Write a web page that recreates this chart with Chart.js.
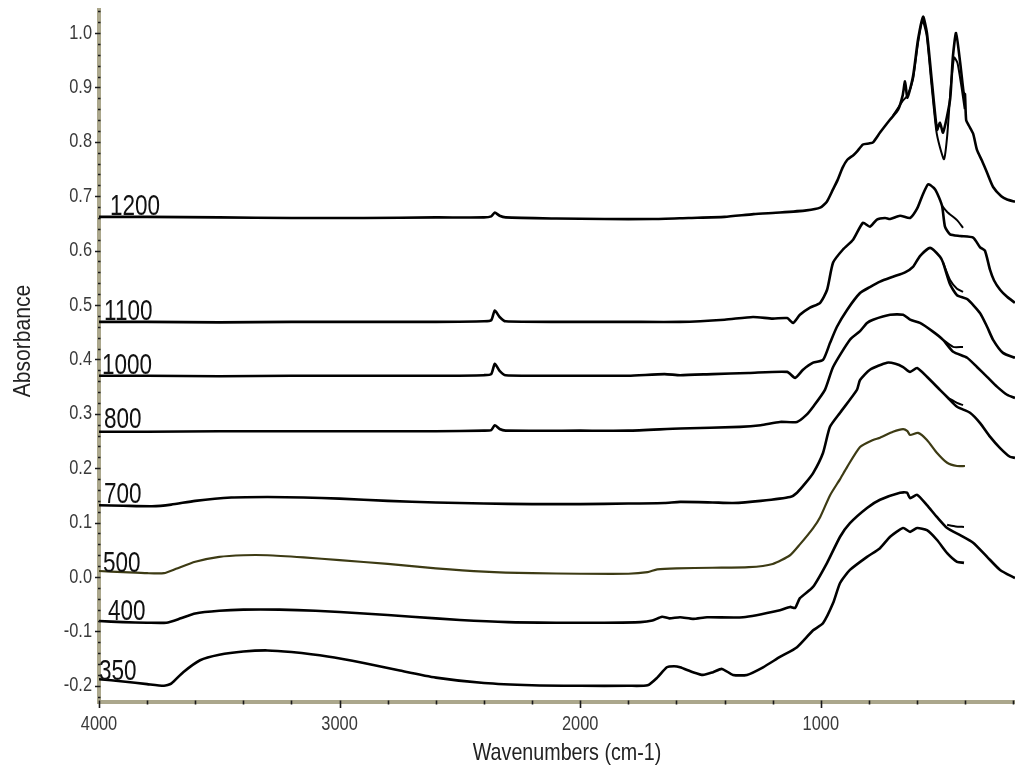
<!DOCTYPE html>
<html>
<head>
<meta charset="utf-8">
<title>Absorbance spectra</title>
<script src="https://cdn.jsdelivr.net/npm/chart.js@4.4.0/dist/chart.umd.min.js"></script>
<style>
  html, body { margin: 0; padding: 0; background: #fff; }
  #wrap { width: 1015px; height: 779px; position: relative; }
</style>
</head>
<body>
<div id="wrap"><canvas id="spectra"></canvas></div>
<script>
// spectra as [wavenumber, absorbance]
const s1200 = [[4000,0.662],[3800,0.662],[3500,0.661],[3200,0.660],[2900,0.660],[2600,0.661],[2400,0.661],[2370,0.663],[2355,0.670],[2335,0.664],[2310,0.661],[2100,0.659],[1900,0.658],[1700,0.658],[1550,0.660],[1400,0.662],[1280,0.667],[1170,0.670],[1060,0.674],[1003,0.679],[975,0.690],[950,0.712],[930,0.730],[910,0.752],[890,0.767],[866,0.775],[850,0.782],[825,0.795],[800,0.797],[783,0.799],[754,0.817],[712,0.841],[679,0.859],[660,0.885],[650,0.911],[640,0.881],[617,0.920],[596,0.988],[575,1.030],[559,1.000],[538,0.909],[517,0.822],[505,0.835],[492,0.817],[463,0.877],[451,0.957],[438,1.000],[421,0.946],[405,0.885],[401,0.888],[396,0.840],[385,0.830],[367,0.815],[351,0.785],[330,0.765],[309,0.743],[284,0.717],[250,0.700],[226,0.694],[193,0.690]];
const s1200b = [[700,0.848],[660,0.875],[640,0.885],[617,0.915],[596,0.982],[577,1.022],[560,0.995],[540,0.905],[520,0.820],[505,0.790],[488,0.768],[475,0.810],[460,0.900],[446,0.955],[432,0.945],[415,0.900],[402,0.860]];

const s1100 = [[4000,0.469],[3800,0.469],[3500,0.468],[3200,0.469],[2900,0.469],[2600,0.469],[2400,0.470],[2370,0.472],[2355,0.490],[2335,0.478],[2310,0.470],[2000,0.469],[1800,0.469],[1585,0.469],[1400,0.473],[1282,0.478],[1200,0.475],[1140,0.476],[1115,0.467],[1087,0.482],[1045,0.495],[1003,0.504],[974,0.528],[949,0.578],[908,0.602],[866,0.620],[825,0.651],[796,0.644],[767,0.657],[733,0.660],[712,0.658],[671,0.664],[629,0.660],[600,0.677],[579,0.700],[554,0.722],[530,0.715],[517,0.706],[496,0.682],[484,0.644],[463,0.630],[421,0.627],[367,0.624],[338,0.606],[318,0.600],[297,0.565],[280,0.545],[255,0.528],[226,0.515],[193,0.504]];
const s1100b = [[496,0.682],[475,0.671],[434,0.656],[409,0.642]];

const s1000 = [[4000,0.370],[3800,0.370],[3500,0.369],[3200,0.370],[2900,0.370],[2600,0.370],[2400,0.371],[2370,0.373],[2355,0.392],[2335,0.379],[2310,0.371],[2000,0.370],[1800,0.370],[1650,0.373],[1585,0.371],[1450,0.373],[1300,0.375],[1140,0.377],[1107,0.366],[1074,0.381],[1032,0.394],[991,0.399],[962,0.430],[933,0.460],[891,0.491],[837,0.522],[796,0.533],[754,0.543],[700,0.552],[650,0.560],[617,0.570],[588,0.590],[546,0.605],[505,0.589],[492,0.578],[463,0.538],[434,0.518],[392,0.511],[338,0.485],[309,0.460],[284,0.436],[243,0.412],[193,0.403]];
const s1000b = [[492,0.578],[463,0.546],[434,0.530],[409,0.524]];

const s800 = [[4000,0.267],[3800,0.267],[3500,0.268],[3200,0.268],[2900,0.268],[2600,0.268],[2400,0.269],[2370,0.270],[2355,0.279],[2335,0.272],[2310,0.269],[2000,0.269],[1800,0.269],[1585,0.273],[1336,0.276],[1250,0.279],[1170,0.285],[1099,0.285],[1060,0.298],[1032,0.313],[983,0.344],[949,0.386],[879,0.436],[837,0.452],[808,0.467],[783,0.473],[712,0.482],[658,0.482],[629,0.473],[588,0.467],[534,0.451],[492,0.436],[450,0.414],[392,0.403],[351,0.386],[309,0.368],[268,0.350],[226,0.335],[193,0.329]];
const s800b = [[492,0.436],[450,0.423],[409,0.423]];

const s700 = [[4000,0.132],[3900,0.131],[3780,0.130],[3700,0.133],[3600,0.140],[3450,0.146],[3300,0.147],[3150,0.146],[3000,0.144],[2800,0.140],[2600,0.137],[2400,0.135],[2200,0.134],[2000,0.134],[1800,0.135],[1650,0.136],[1585,0.138],[1450,0.137],[1365,0.136],[1250,0.140],[1128,0.147],[1099,0.155],[1065,0.172],[1032,0.191],[991,0.228],[962,0.276],[920,0.302],[850,0.344],[837,0.362],[796,0.381],[725,0.394],[690,0.392],[658,0.386],[629,0.377],[600,0.384],[559,0.368],[505,0.344],[471,0.329],[434,0.313],[380,0.302],[338,0.283],[297,0.258],[255,0.237],[214,0.221],[193,0.219]];
const s700b = [[471,0.329],[434,0.320],[409,0.316]];

const s500 = [[4000,0.011],[3900,0.009],[3800,0.007],[3730,0.007],[3680,0.015],[3600,0.028],[3500,0.037],[3400,0.040],[3300,0.040],[3150,0.036],[3000,0.031],[2800,0.024],[2600,0.016],[2400,0.010],[2200,0.007],[2000,0.006],[1800,0.006],[1720,0.009],[1680,0.014],[1600,0.016],[1450,0.017],[1300,0.018],[1200,0.024],[1128,0.040],[1087,0.060],[1032,0.090],[1003,0.110],[962,0.150],[920,0.180],[891,0.202],[837,0.239],[783,0.252],[754,0.256],[700,0.267],[658,0.272],[640,0.268],[629,0.261],[596,0.265],[559,0.252],[517,0.228],[475,0.210],[434,0.204],[401,0.204]];

const s400 = [[4000,-0.081],[3900,-0.083],[3800,-0.084],[3720,-0.084],[3660,-0.076],[3600,-0.067],[3500,-0.062],[3400,-0.060],[3250,-0.060],[3100,-0.062],[2900,-0.067],[2700,-0.073],[2500,-0.079],[2300,-0.083],[2100,-0.084],[1900,-0.084],[1750,-0.083],[1700,-0.080],[1660,-0.073],[1630,-0.076],[1585,-0.074],[1531,-0.077],[1473,-0.074],[1323,-0.074],[1170,-0.061],[1128,-0.055],[1107,-0.057],[1087,-0.039],[1032,-0.018],[974,0.026],[920,0.074],[879,0.099],[808,0.127],[754,0.142],[671,0.155],[642,0.155],[629,0.145],[600,0.151],[559,0.132],[517,0.110],[475,0.090],[421,0.077],[367,0.063],[309,0.037],[255,0.013],[193,-0.002]];
const s400b = [[475,0.096],[440,0.093],[405,0.092]];

const s350 = [[4000,-0.188],[3900,-0.192],[3800,-0.197],[3730,-0.200],[3700,-0.196],[3650,-0.175],[3580,-0.153],[3500,-0.143],[3400,-0.137],[3300,-0.135],[3200,-0.138],[3050,-0.146],[2900,-0.158],[2750,-0.172],[2600,-0.185],[2400,-0.195],[2200,-0.199],[2000,-0.200],[1800,-0.200],[1720,-0.199],[1680,-0.185],[1640,-0.166],[1610,-0.164],[1585,-0.166],[1531,-0.175],[1490,-0.180],[1448,-0.175],[1411,-0.169],[1365,-0.180],[1307,-0.180],[1240,-0.166],[1170,-0.147],[1099,-0.129],[1032,-0.098],[991,-0.085],[949,-0.048],[920,-0.011],[879,0.013],[808,0.037],[754,0.053],[712,0.074],[658,0.090],[629,0.083],[600,0.090],[559,0.086],[517,0.068],[475,0.044],[434,0.028],[405,0.026]];

// curve labels: text, wavenumber of left edge, absorbance of baseline
const sampleNames = ['1200', '1100', '1000', '800', '700', '500', '400', '350'];
const labelWn  = [3954, 3979, 3988, 3979, 3979, 3983, 3963, 4000];
const labelAbs = [0.665, 0.472, 0.373, 0.274, 0.136, 0.009, -0.079, -0.189];

// axis ticks
const xTicks = [4000, 3000, 2000, 1000];
const yTicks = [-0.2, -0.1, 0.0, 0.1, 0.2, 0.3, 0.4, 0.5, 0.6, 0.7, 0.8, 0.9, 1.0];

const xMin = 193, xMax = 4000;
const yMin = -0.2298, yMax = 1.0423;

const AXIS = '#aba78c';
const FONT = '"Liberation Sans", Arial, sans-serif';

function line(data, color, width) {
  return { data, borderColor: color, borderWidth: width, pointRadius: 0, tension: 0.2, fill: false };
}

const datasets = [
  line(s1200, '#000', 2.6), line(s1200b, '#000', 2),
  line(s1100, '#000', 2.6), line(s1100b, '#000', 2),
  line(s1000, '#000', 2.6), line(s1000b, '#000', 2),
  line(s800, '#000', 2.6), line(s800b, '#000', 2),
  line(s700, '#000', 2.6), line(s700b, '#000', 2),
  line(s500, '#3d3b14', 2.2),
  line(s400, '#000', 2.6), line(s400b, '#000', 2),
  line(s350, '#000', 2.6)
];

// text squeezed sideways, the reference uses a narrow face
function narrowText(ctx, text, x, y, size, sx, opts = {}) {
  ctx.save();
  ctx.translate(x, y);
  if (opts.rotate) ctx.rotate(opts.rotate);
  ctx.scale(sx, 1);
  ctx.font = size + 'px ' + FONT;
  ctx.fillStyle = opts.color || '#333';
  ctx.textAlign = opts.align || 'left';
  ctx.textBaseline = opts.baseline || 'alphabetic';
  ctx.fillText(text, 0, 0);
  ctx.restore();
}

// tick marks on the khaki axis bars, tick labels and axis titles
const axisDecor = {
  id: 'axisDecor',
  afterDraw(chart) {
    const { ctx, chartArea: a, scales: { x, y } } = chart;
    ctx.save();
    ctx.strokeStyle = '#1a1a1a';
    ctx.lineWidth = 1.6;
    ctx.beginPath();
    for (let i = -11; i <= 52; i++) {
      const py = Math.round(y.getPixelForValue(i * 0.02)) + 0.5;
      const major = i % 5 === 0;
      ctx.moveTo(a.left - (major ? 4 : 1), py);
      ctx.lineTo(a.left + 1.5, py);
    }
    for (let i = 1; i <= 20; i++) {
      const px = Math.round(x.getPixelForValue(i * 200)) + 0.5;
      const major = i % 5 === 0;
      ctx.moveTo(px, a.bottom - 1.5);
      ctx.lineTo(px, a.bottom + (major ? 6 : 2.5));
    }
    ctx.stroke();
    ctx.restore();

    yTicks.forEach(v => {
      narrowText(ctx, v.toFixed(1), a.left - 7, y.getPixelForValue(v), 20.5, 0.8,
        { align: 'right', baseline: 'middle', color: '#3a3a3a' });
    });
    xTicks.forEach(v => {
      narrowText(ctx, String(v), x.getPixelForValue(v), a.bottom + 28, 20.5, 0.8,
        { align: 'center', color: '#3a3a3a' });
    });
    narrowText(ctx, 'Wavenumbers (cm-1)', (a.left + a.right) / 2 + 10, 760, 24, 0.82,
      { align: 'center', color: '#222' });
    narrowText(ctx, 'Absorbance', 30, 341, 24, 0.88,
      { align: 'center', rotate: -Math.PI / 2, color: '#222' });
  }
};

// sample names written on the curves
const curveLabels = {
  id: 'curveLabels',
  afterDatasetsDraw(chart) {
    const { ctx, scales: { x, y } } = chart;
    sampleNames.forEach((t, i) => {
      narrowText(ctx, t, x.getPixelForValue(labelWn[i]), y.getPixelForValue(labelAbs[i]), 30, 0.75,
        { color: '#111' });
    });
  }
};

new Chart(document.getElementById('spectra'), {
  type: 'line',
  data: { datasets },
  plugins: [curveLabels, axisDecor],
  options: {
    responsive: true,
    maintainAspectRatio: false,
    animation: false,
    layout: { padding: { top: 10, right: 0, bottom: 0, left: 0 } },
    plugins: { legend: { display: false }, tooltip: { enabled: false } },
    scales: {
      x: {
        type: 'linear',
        reverse: true,
        min: xMin,
        max: xMax,
        afterBuildTicks: s => { s.ticks = xTicks.map(v => ({ value: v })); },
        afterFit: s => { s.height = 77; },
        grid: { display: false, drawTicks: false },
        border: { display: true, color: AXIS, width: 4 },
        ticks: { display: false }
      },
      y: {
        type: 'linear',
        min: yMin,
        max: yMax,
        afterBuildTicks: s => { s.ticks = yTicks.map(v => ({ value: v })); },
        afterFit: s => { s.width = 99; },
        grid: { display: false, drawTicks: false },
        border: { display: true, color: AXIS, width: 4 },
        ticks: { display: false }
      }
    }
  }
});
</script>
</body>
</html>
